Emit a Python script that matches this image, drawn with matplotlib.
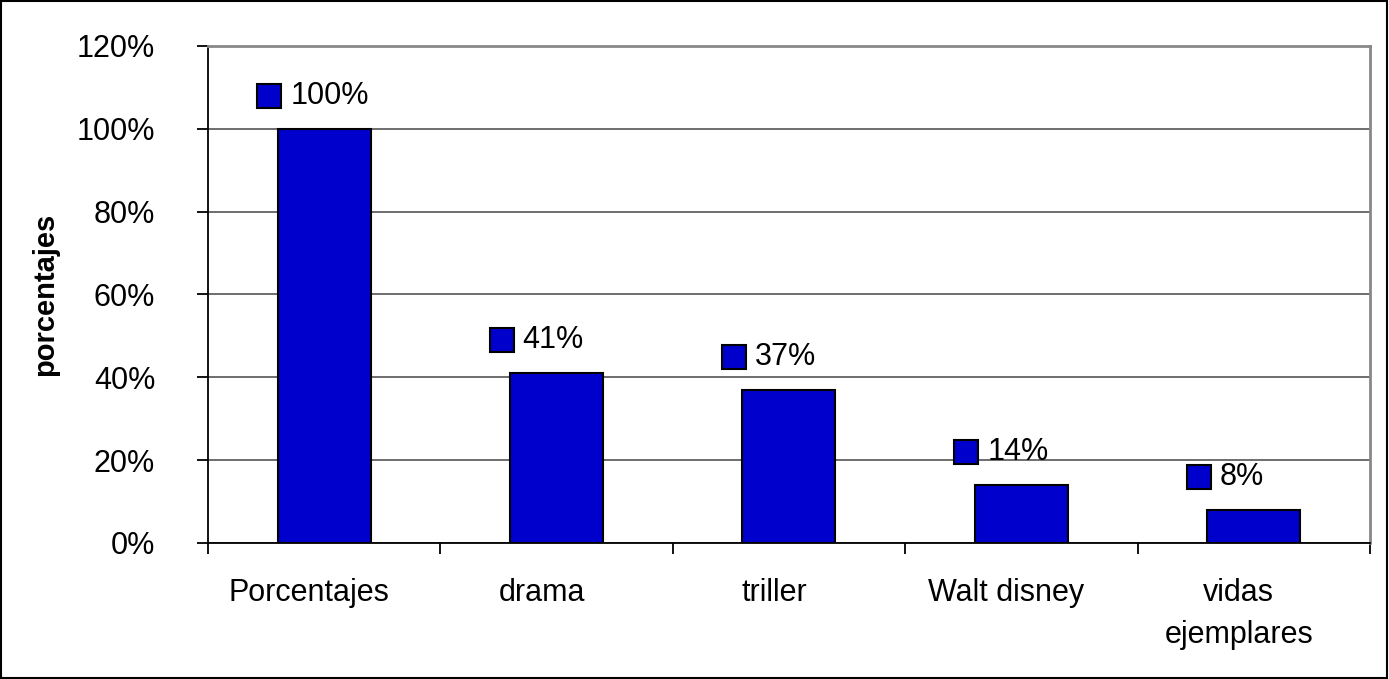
import matplotlib.pyplot as plt
from matplotlib.patches import Rectangle
from matplotlib.ticker import FixedLocator, PercentFormatter
import matplotlib.transforms as mtransforms

categories = ["Porcentajes", "drama", "triller", "Walt disney", "vidas\nejemplares"]
values = [100, 41, 37, 14, 8]
y_ticks = [0, 20, 40, 60, 80, 100, 120]

BAR_COLOR = "#0000CC"


def main():
    plt.rcParams["font.family"] = ["Liberation Sans", "DejaVu Sans"]

    fig = plt.figure(figsize=(13.89, 6.79), dpi=100)
    ax = fig.add_axes([0.1497, 0.2003, 0.8366, 0.7320])

    x = list(range(len(categories)))
    ax.bar(x, values, width=0.4, color=BAR_COLOR, edgecolor="black",
           linewidth=1.5, zorder=3)

    ax.set_xlim(-0.5, len(categories) - 0.5)
    ax.set_ylim(0, 120)

    # gridlines and plot-area frame
    ax.set_yticks(y_ticks)
    ax.yaxis.set_major_formatter(PercentFormatter(decimals=0))
    ax.grid(axis="y", color="#555555", linewidth=1.2, zorder=0)
    ax.spines["top"].set_color("#888888")
    ax.spines["right"].set_color("#888888")
    ax.spines["top"].set_linewidth(2)
    ax.spines["right"].set_linewidth(2)
    ax.spines["left"].set_linewidth(1.3)
    ax.spines["bottom"].set_linewidth(1.3)

    # category separators as major ticks, names as minor ticks
    ax.xaxis.set_major_locator(FixedLocator([i - 0.5 for i in range(len(categories) + 1)]))
    ax.xaxis.set_minor_locator(FixedLocator(x))
    ax.set_xticklabels([], minor=False)
    ax.set_xticklabels(categories, minor=True, fontsize=22, linespacing=1.55)
    ax.tick_params(axis="x", which="major", direction="out", length=8, width=1.3)
    ax.tick_params(axis="x", which="minor", length=0, pad=25)
    ax.tick_params(axis="y", direction="out", length=8, width=1.3, pad=30, labelsize=22)

    # category names sit a little left of the bar centres in the original
    shift = mtransforms.ScaledTranslation(-15 / 100, 0, fig.dpi_scale_trans)
    for lbl in ax.get_xticklabels(minor=True):
        lbl.set_transform(lbl.get_transform() + shift)

    ax.set_ylabel("porcentajes", fontsize=21, fontweight="bold")
    ax.yaxis.set_label_coords(-0.128, 0.5)

    # value labels with a small legend key square
    for xi, v in zip(x, values):
        key_tr = ax.transData + mtransforms.ScaledTranslation(-55 / 100, 33 / 100, fig.dpi_scale_trans)
        ax.plot([xi], [v], marker="s", markersize=17, markerfacecolor=BAR_COLOR,
                markeredgecolor="black", markeredgewidth=1.5, transform=key_tr,
                clip_on=False, zorder=4)
        ax.annotate(f"{v}%", (xi, v), xytext=(-34 * 0.72, 33 * 0.72),
                    textcoords="offset points", ha="left", va="center",
                    fontsize=22, zorder=4)

    # outer figure frame
    fig.patches.append(Rectangle((0.0007, 0.0015), 0.998, 0.997, transform=fig.transFigure,
                                 fill=False, edgecolor="black", linewidth=1.5))

    fig.savefig("out.png", dpi=100)


if __name__ == "__main__":
    main()
